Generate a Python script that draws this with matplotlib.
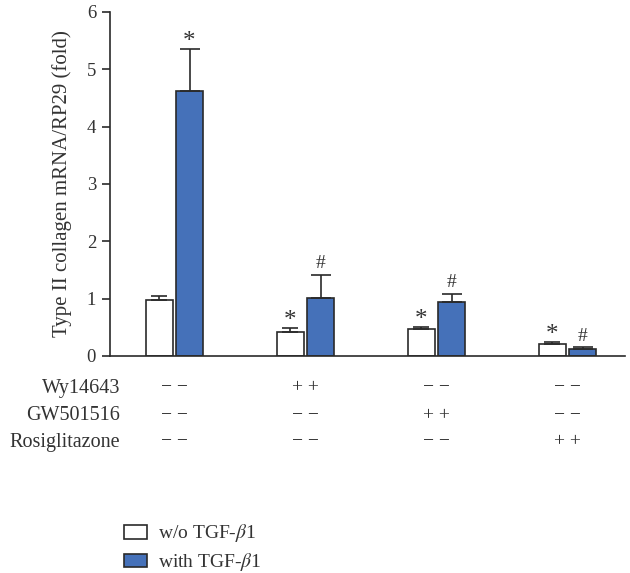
import numpy as np
import matplotlib
matplotlib.use("Agg")
import matplotlib.pyplot as plt
from matplotlib.patches import Patch

plt.rcParams["font.family"] = ["Liberation Serif", "DejaVu Serif"]
plt.rcParams["mathtext.fontset"] = "stix"

# data
groups = ["ctrl", "Wy14643", "GW501516", "Rosiglitazone"]
without_tgf = [0.98, 0.42, 0.47, 0.21]
without_err = [0.07, 0.07, 0.04, 0.03]
with_tgf = [4.63, 1.02, 0.94, 0.12]
with_err = [0.72, 0.40, 0.15, 0.03]
without_marks = ["", "*", "*", "*"]
with_marks = ["*", "#", "#", "#"]

row_labels = ["Wy14643", "GW501516", "Rosiglitazone"]
minus = "\u2212 \u2212"
plus = "+ +"
signs = [
    [minus, plus, minus, minus],
    [minus, minus, plus, minus],
    [minus, minus, minus, plus],
]
legend_labels = ["w/o TGF-$\\beta$1", "with TGF-$\\beta$1"]

blue = "#4571b9"
edge = "#2a2a2a"
txt = "#333333"

fig = plt.figure(figsize=(6.3, 5.73), dpi=100)
ax = fig.add_axes([110 / 630, 1 - 356 / 573, 515 / 630, 344 / 573])

x = np.arange(len(groups))
w = 0.21
off = 0.115
ax.bar(x - off, without_tgf, w, color="white", edgecolor=edge, linewidth=1.2,
       yerr=[np.zeros(4), without_err], capsize=6,
       error_kw=dict(elinewidth=1.2, capthick=1.2, ecolor=edge))
ax.bar(x + off, with_tgf, w, color=blue, edgecolor=edge, linewidth=1.2,
       yerr=[np.zeros(4), with_err], capsize=7,
       error_kw=dict(elinewidth=1.2, capthick=1.2, ecolor=edge))

for i in range(len(groups)):
    for xi, v, e, m in [(x[i] - off, without_tgf[i], without_err[i], without_marks[i]),
                        (x[i] + off, with_tgf[i], with_err[i], with_marks[i])]:
        if m:
            fs = 18 if m == "*" else 14
            dy = -3 if m == "*" else 2
            ax.annotate(m, (xi, v + e), xytext=(0, dy), textcoords="offset points",
                        ha="center", va="bottom", fontsize=fs, color=txt)

ax.set_xlim(-0.492, 3.439)
ax.set_ylim(0, 6)
ax.set_yticks(range(7))
ax.tick_params(axis="y", labelsize=13.5, length=6, width=1.2, colors=edge,
               labelcolor=txt, pad=4)
ax.set_xticks([])
for s in ["top", "right"]:
    ax.spines[s].set_visible(False)
ax.spines["left"].set_linewidth(1.2)
ax.spines["bottom"].set_linewidth(1.2)
ax.spines["left"].set_color(edge)
ax.spines["bottom"].set_color(edge)
ax.set_ylabel("Type II collagen mRNA/RP29 (fold)", fontsize=15, color=txt)
ax.yaxis.set_label_coords(-38 / 515, 0.5)

# treatment table under the axis
row_y = [388, 415, 442]
for r, lab in enumerate(row_labels):
    yf = 1 - row_y[r] / 573
    fig.text(120 / 630, yf, lab, ha="right", va="center", fontsize=14.5, color=txt)
    for c in range(len(groups)):
        px = ax.transData.transform((x[c], 0))[0]
        fig.text(px / 630, yf, signs[r][c], ha="center", va="center",
                 fontsize=14, color=txt)

handles = [Patch(facecolor="white", edgecolor=edge, linewidth=1.2),
           Patch(facecolor=blue, edgecolor=edge, linewidth=1.2)]
fig.legend(handles, legend_labels, loc="upper left",
           bbox_to_anchor=(106 / 630, 1 - 505 / 573), frameon=False, fontsize=14,
           handlelength=1.2, handleheight=0.7, handletextpad=0.6, labelspacing=0.35,
           labelcolor=txt)

fig.savefig("out.png", dpi=100)
